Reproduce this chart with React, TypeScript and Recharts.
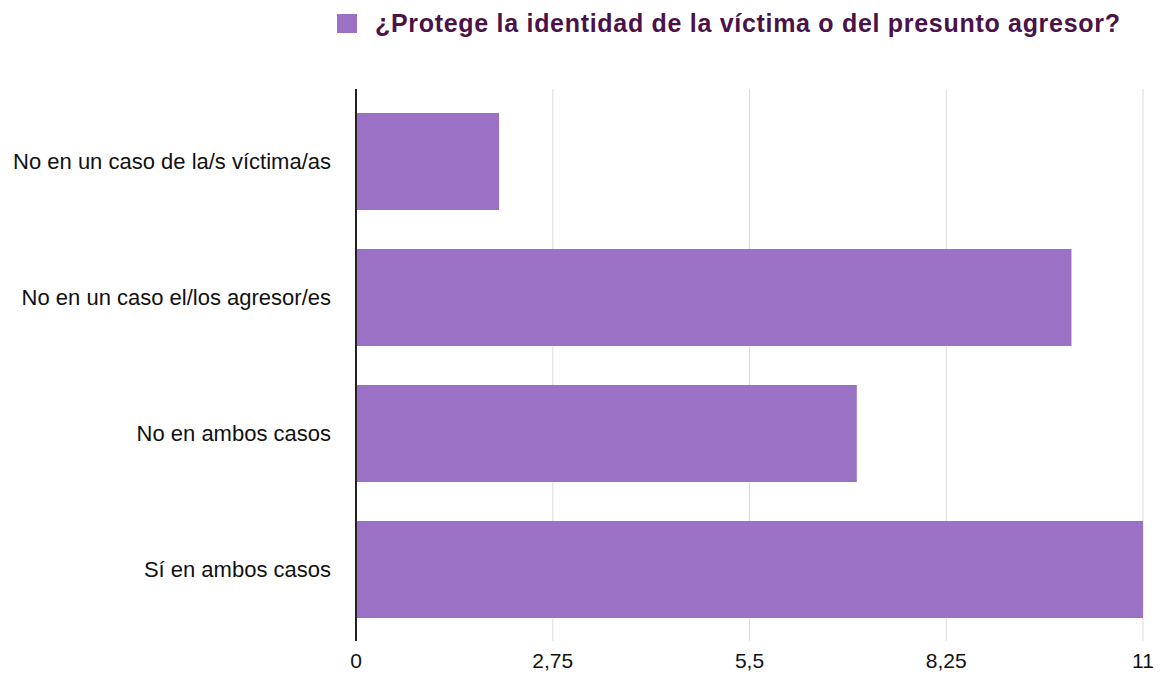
import React from 'react';
import { BarChart, Bar, XAxis, YAxis, CartesianGrid } from 'recharts';

const categories = [
  'No en un caso de la/s víctima/as',
  'No en un caso el/los agresor/es',
  'No en ambos casos',
  'Sí en ambos casos',
];
const values = [2, 10, 7, 11];
const xTicks = [0, 2.75, 5.5, 8.25, 11];
const seriesName = '¿Protege la identidad de la víctima o del presunto agresor?';

const data = categories.map((c, i) => ({ name: c, value: values[i] }));

const FONT = '"Liberation Sans", Arial, Helvetica, sans-serif';
const BAR_COLOR = '#9A71C5';

const formatTick = (v: number) => String(v).replace('.', ',');

// legend drawn as plain html on top so it doesn't push the plot down
const LegendBox = () => (
  <div
    style={{
      position: 'absolute',
      top: 8,
      left: 337,
      display: 'flex',
      alignItems: 'center',
      fontFamily: FONT,
      height: 30,
    }}
  >
    <span style={{ width: 20, height: 19, background: BAR_COLOR, display: 'inline-block', marginRight: 18 }} />
    <span style={{ fontSize: 25, fontWeight: 'bold', color: '#4A1248', letterSpacing: 0.7 }}>{seriesName}</span>
  </div>
);

const App = () => {
  return (
    <div style={{ position: 'absolute', top: 0, left: 0, width: 1168, height: 675, background: '#fff', overflow: 'hidden' }}>
      <BarChart
        width={1168}
        height={675}
        data={data}
        layout="vertical"
        margin={{ top: 89, right: 25, bottom: 4, left: 0 }}
      >
        <CartesianGrid horizontal={false} stroke="#dcdcdc" />
        <XAxis
          type="number"
          domain={[0, 11]}
          ticks={xTicks}
          tickFormatter={formatTick}
          axisLine={false}
          tickLine={false}
          height={30}
          tickMargin={6}
          tick={{ fill: '#111', fontSize: 21, fontFamily: FONT }}
        />
        <YAxis
          type="category"
          dataKey="name"
          width={356}
          padding={{ top: 4, bottom: 4 }}
          axisLine={{ stroke: '#222', strokeWidth: 2 }}
          tickLine={false}
          tickMargin={19}
          tick={{ fill: '#111', fontSize: 22, fontFamily: FONT }}
        />
        <Bar dataKey="value" fill={BAR_COLOR} barSize={97} isAnimationActive={false} />
      </BarChart>
      <LegendBox />
    </div>
  );
};

export default App;
